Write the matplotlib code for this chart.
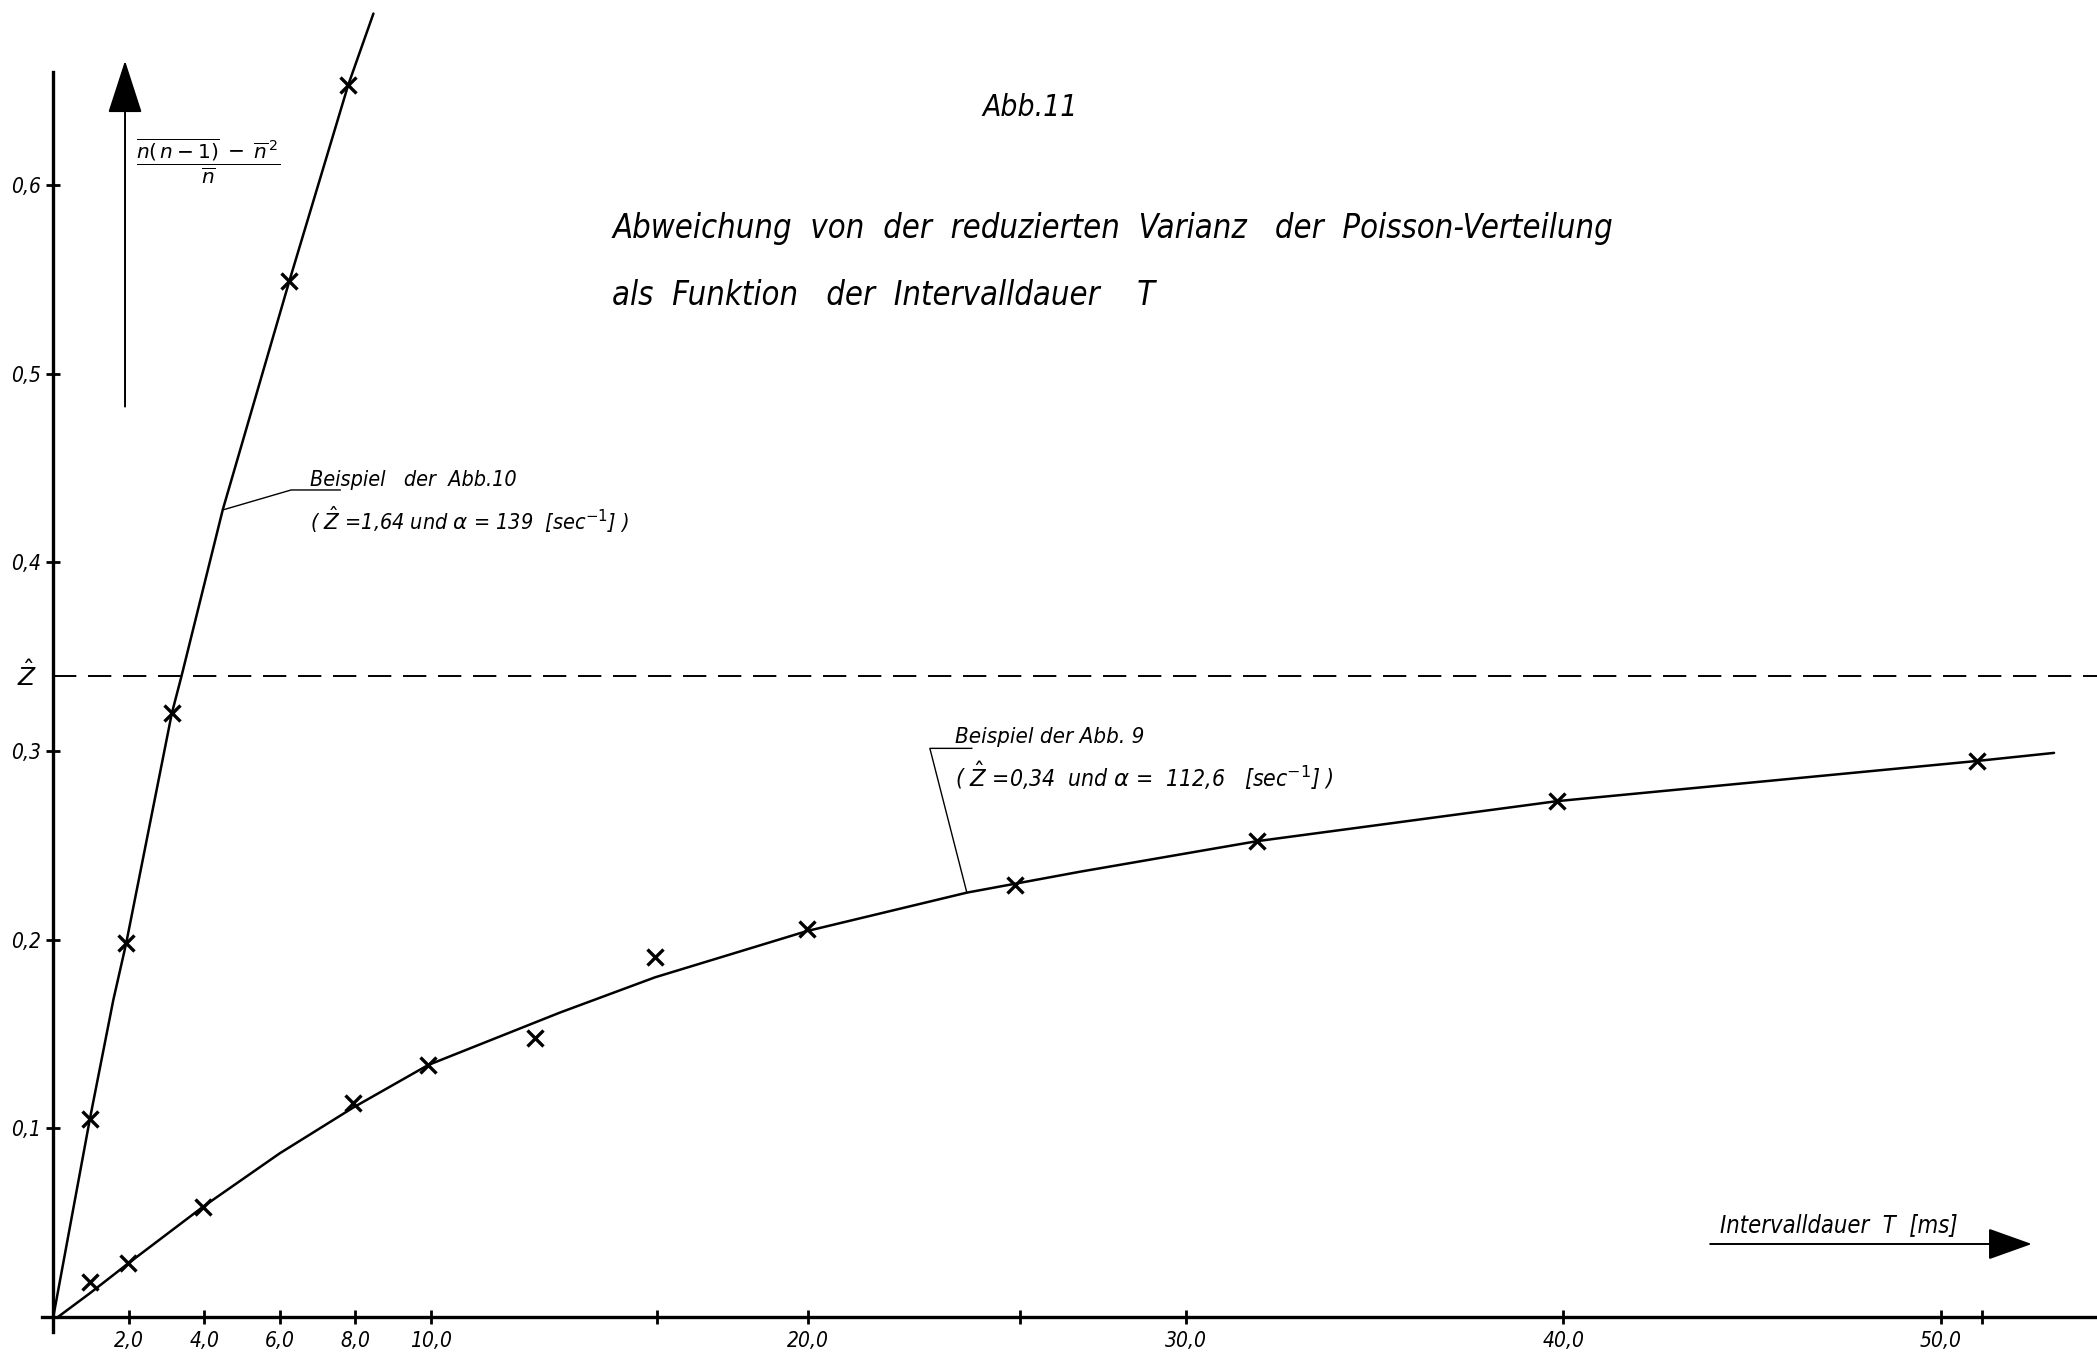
import matplotlib
matplotlib.use("Agg")
import matplotlib.pyplot as plt

plt.rcParams['font.family'] = ['DejaVu Sans']
plt.rcParams['mathtext.fontset'] = 'dejavusans'

# ---------------- data ----------------
# measured points, example of Abb.10  (Z^=1.64, alpha=139 1/s)
T_abb10 = [0.97, 1.93, 3.14, 6.25, 7.81]
V_abb10 = [0.105, 0.198, 0.320, 0.549, 0.653]
# drawn curve for Abb.10
curve10_T = [0.0, 0.97, 1.59, 1.93, 3.14, 3.40, 4.49, 6.25, 7.81, 8.48]
curve10_V = [0.0, 0.105, 0.168, 0.198, 0.320, 0.340, 0.428, 0.549, 0.653, 0.691]

# measured points, example of Abb.9  (Z^=0.34, alpha=112.6 1/s)
T_abb9 = [0.97, 1.99, 3.97, 7.95, 9.93, 12.76, 15.94, 19.96, 25.48, 31.89, 39.83, 50.95]
V_abb9 = [0.0186, 0.0284, 0.0584, 0.1132, 0.1335, 0.1477, 0.191, 0.2055, 0.229, 0.2522, 0.2734, 0.2947]
# drawn curve for Abb.9
curve9_T = [0.13, 0.97, 1.99, 3.97, 6.0, 7.95, 9.93, 13.42, 15.94, 19.96, 24.2, 27.2, 31.89, 39.83, 50.95, 53.0]
curve9_V = [0.0, 0.0125, 0.0284, 0.0584, 0.0867, 0.111, 0.1335, 0.1613, 0.180, 0.2045, 0.2249, 0.236, 0.2522, 0.2734, 0.2947, 0.299]

Z_HAT = 0.34

x_ticks = [2, 4, 6, 8, 10, 16, 20, 25.6, 30, 40, 50, 51.1]
x_tick_labels = ['2,0', '4,0', '6,0', '8,0', '10,0', '', '20,0', '', '30,0', '40,0', '50,0', '']
y_ticks = [0.1, 0.2, 0.3, 0.4, 0.5, 0.6]
y_tick_labels = ['0,1', '0,2', '0,3', '0,4', '0,5', '0,6']

# ---------------- figure ----------------
W, H = 2097, 1356
fig = plt.figure(figsize=(W / 100, H / 100), dpi=100)
ax = fig.add_axes([0, 0, 1, 1])
x0, sx = 53.3, 37.75
y0, sy = 1316.8, 1886.0
ax.set_xlim(-x0 / sx, (W - x0) / sx)
ax.set_ylim((y0 - H) / sy, y0 / sy)
xmax = (W - x0) / sx

FONT = dict(family=['DejaVu Sans'], style='italic', stretch='condensed')

for s in ['top', 'right']:
    ax.spines[s].set_visible(False)
ax.spines['left'].set_position(('data', 0))
ax.spines['bottom'].set_position(('data', 0))
ax.spines['left'].set_bounds(-0.008, 0.660)
ax.spines['bottom'].set_bounds(-0.3, xmax)
for s in ['left', 'bottom']:
    ax.spines[s].set_linewidth(2.4)

ax.set_xticks(x_ticks)
ax.set_xticklabels(x_tick_labels)
ax.set_yticks(y_ticks)
ax.set_yticklabels(y_tick_labels)
ax.tick_params(axis='both', direction='inout', length=10, width=2, colors='k')
ax.tick_params(axis='x', pad=5)
ax.tick_params(axis='y', pad=4)
for lab in ax.get_xticklabels() + ax.get_yticklabels():
    lab.set_fontfamily(FONT['family'])
    lab.set_fontstyle('italic')
    lab.set_fontstretch('condensed')
    lab.set_fontsize(15)

# curves and points
ax.plot(curve10_T, curve10_V, color='k', lw=1.8, solid_capstyle='round')
ax.plot(curve9_T, curve9_V, color='k', lw=1.8, solid_capstyle='round')
ax.plot(T_abb10, V_abb10, 'x', color='k', ms=12, mew=2.4)
ax.plot(T_abb9, V_abb9, 'x', color='k', ms=12, mew=2.4)

# Z hat dashed line
ax.plot([0, xmax], [Z_HAT, Z_HAT], color='k', lw=1.4, dashes=(12, 6))
ax.text(-0.42, Z_HAT, r'$\hat{Z}$', ha='right', va='center', fontsize=18)

# axis arrows
ax.annotate('', xy=(1.90, 0.666), xytext=(1.90, 0.4826),
            arrowprops=dict(arrowstyle='-|>,head_length=3.4,head_width=1.1',
                            lw=1.4, color='k', shrinkA=0, shrinkB=0))
ax.annotate('', xy=(52.41, 0.0386), xytext=(43.89, 0.0386),
            arrowprops=dict(arrowstyle='-|>,head_length=2.8,head_width=1.0',
                            lw=1.4, color='k', shrinkA=0, shrinkB=0))
ax.text(44.15, 0.0451, 'Intervalldauer  T  [ms]', ha='left', va='baseline',
        fontsize=17, **FONT)

# y label
ax.text(4.10, 0.613, r'$\dfrac{\overline{n(\,n-1)}\;-\;\overline{n}^{\,2}}{\overline{n}}$',
        ha='center', va='center', fontsize=14.5)

# titles
ax.text(25.87, 0.6367, 'Abb.11', ha='center', va='baseline', fontsize=21.5, **FONT)
ax.text(14.81, 0.5720, 'Abweichung  von  der  reduzierten  Varianz   der  Poisson-Verteilung',
        ha='left', va='baseline', fontsize=23.5, **FONT)
ax.text(14.81, 0.5365, 'als  Funktion   der  Intervalldauer    T',
        ha='left', va='baseline', fontsize=23.5, **FONT)

# annotation Abb.10
ax.plot([4.487, 6.30, 7.60], [0.4278, 0.4384, 0.4384], color='k', lw=1.0)
ax.text(6.80, 0.4405, 'Beispiel   der  Abb.10', ha='left', va='baseline', fontsize=15.5, **FONT)
ax.text(6.80, 0.4172, r'( $\hat{Z}$ =1,64 und $\alpha$ = 139  [sec$^{-1}$] )',
        ha='left', va='baseline', fontsize=15.5, **FONT)

# annotation Abb.9
ax.plot([24.2, 23.22, 24.33], [0.2249, 0.3014, 0.3014], color='k', lw=1.0)
ax.text(23.88, 0.3042, 'Beispiel der Abb. 9', ha='left', va='baseline', fontsize=16, **FONT)
ax.text(23.88, 0.2808, r'( $\hat{Z}$ =0,34  und $\alpha$ =  112,6   [sec$^{-1}$] )',
        ha='left', va='baseline', fontsize=16.5, **FONT)

fig.savefig('out.png', dpi=100, facecolor='white')
